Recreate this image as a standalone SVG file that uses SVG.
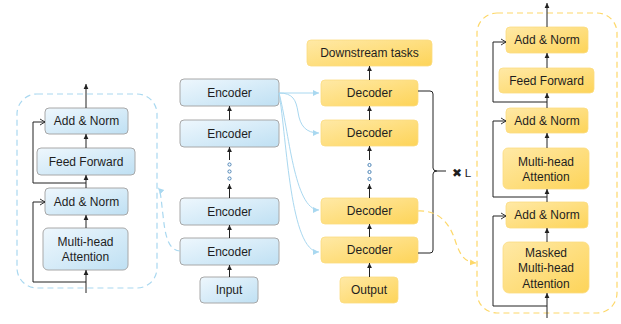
<svg xmlns="http://www.w3.org/2000/svg" width="621" height="324" viewBox="0 0 621 324">
<defs>
<linearGradient id="gb" x1="0" y1="0" x2="1" y2="1">
<stop offset="0" stop-color="#eef7fd"/>
<stop offset="1" stop-color="#bfe0f3"/>
</linearGradient>
<linearGradient id="gy" x1="0" y1="0" x2="1" y2="1">
<stop offset="0" stop-color="#ffe9a6"/>
<stop offset="1" stop-color="#fdd459"/>
</linearGradient>
<marker id="ah" markerWidth="6" markerHeight="6" refX="5" refY="3" orient="auto" markerUnits="userSpaceOnUse">
<path d="M0,0.6 L5,3 L0,5.4 Z" fill="#222"/>
</marker>
<marker id="oh" markerWidth="8" markerHeight="8" refX="6" refY="4" orient="auto" markerUnits="userSpaceOnUse">
<path d="M1,1 L6,4 L1,7" fill="none" stroke="#222" stroke-width="0.9"/>
</marker>
<marker id="bh" markerWidth="8" markerHeight="8" refX="6" refY="4" orient="auto" markerUnits="userSpaceOnUse">
<path d="M0,1 L6,4 L0,7 Z" fill="#a9d8f0"/>
</marker>
<marker id="yh" markerWidth="8" markerHeight="8" refX="6" refY="4" orient="auto" markerUnits="userSpaceOnUse">
<path d="M0,1 L6,4 L0,7 Z" fill="#fdd86a"/>
</marker>
</defs>
<style>
.b{fill:url(#gb);stroke:#a8a8a8;stroke-width:1}
.y{fill:url(#gy);stroke:#fbdc80;stroke-width:0.8}
text{font-family:"Liberation Sans",Arial,sans-serif;font-size:12px;fill:#1e1e1e;text-anchor:middle}
.ln{fill:none;stroke:#222;stroke-width:1}
.bl{fill:none;stroke:#a9d8f0;stroke-width:1}
.bd{fill:none;stroke:#a9d8f0;stroke-width:1.2;stroke-dasharray:6,4}
.yd{fill:none;stroke:#fdd86a;stroke-width:1.2;stroke-dasharray:6,4}
.dot{fill:#fff;stroke:#4f86b8;stroke-width:1}
</style>

<!-- containers -->
<rect x="17" y="94" width="140" height="194" rx="20" class="bd"/>
<rect x="477" y="13" width="140" height="300" rx="20" class="yd"/>

<!-- left encoder block -->
<g id="L_an1"><rect x="45" y="108" width="83" height="26" rx="4" class="b"/><text x="86.5" y="125.2">Add &amp; Norm</text></g>
<g id="L_ff"><rect x="37" y="148" width="98" height="27" rx="4" class="b"/><text x="86" y="165.7">Feed Forward</text></g>
<g id="L_an2"><rect x="45" y="188" width="83" height="27" rx="4" class="b"/><text x="86.5" y="205.7">Add &amp; Norm</text></g>
<g id="L_mha"><rect x="43" y="228" width="85" height="42" rx="5" class="b"/><text x="85.5" y="246.2">Multi-head</text><text x="85.5" y="261.2">Attention</text></g>

<!-- encoder column -->
<g id="E1"><rect x="180" y="79" width="99" height="27" rx="4" class="b"/><text x="229.5" y="96.7">Encoder</text></g>
<g id="E2"><rect x="180" y="120" width="99" height="27" rx="4" class="b"/><text x="229.5" y="137.7">Encoder</text></g>
<g id="E3"><rect x="180" y="198" width="99" height="27" rx="4" class="b"/><text x="229.5" y="215.7">Encoder</text></g>
<g id="E4"><rect x="180" y="238" width="99" height="27" rx="4" class="b"/><text x="229.5" y="255.7">Encoder</text></g>
<g id="Input"><rect x="200" y="277" width="58" height="26" rx="4" class="b"/><text x="229" y="294.2">Input</text></g>

<!-- decoder column -->
<g id="DS"><rect x="307" y="40" width="125" height="26" rx="4" class="y"/><text x="369.5" y="57.2">Downstream tasks</text></g>
<g id="D1"><rect x="321" y="80" width="97" height="26" rx="4" class="y"/><text x="369.5" y="97.2">Decoder</text></g>
<g id="D2"><rect x="321" y="120" width="97" height="26" rx="4" class="y"/><text x="369.5" y="137.2">Decoder</text></g>
<g id="D3"><rect x="321" y="198" width="97" height="26" rx="4" class="y"/><text x="369.5" y="215.2">Decoder</text></g>
<g id="D4"><rect x="321" y="237" width="97" height="26" rx="4" class="y"/><text x="369.5" y="254.2">Decoder</text></g>
<g id="Output"><rect x="340" y="277" width="58" height="26" rx="4" class="y"/><text x="369" y="294.2">Output</text></g>

<!-- right decoder block -->
<g id="R_an1"><rect x="506" y="27" width="82" height="26" rx="4" class="y"/><text x="547" y="44.2">Add &amp; Norm</text></g>
<g id="R_ff"><rect x="499" y="68" width="95" height="25" rx="4" class="y"/><text x="546.5" y="84.7">Feed Forward</text></g>
<g id="R_an2"><rect x="506" y="108" width="82" height="25" rx="4" class="y"/><text x="547" y="124.7">Add &amp; Norm</text></g>
<g id="R_mha"><rect x="503" y="148" width="86" height="41" rx="5" class="y"/><text x="546" y="165.7">Multi-head</text><text x="546" y="180.7">Attention</text></g>
<g id="R_an3"><rect x="506" y="202" width="82" height="26" rx="4" class="y"/><text x="547" y="219.2">Add &amp; Norm</text></g>
<g id="R_mmha"><rect x="503" y="242" width="86" height="51" rx="6" class="y"/><text x="546" y="257.2">Masked</text><text x="546" y="272.2">Multi-head</text><text x="546" y="287.7">Attention</text></g>

<!-- L label -->
<g id="Lbl"><text x="457" y="176.5" style="font-family:'DejaVu Sans',sans-serif;font-size:12px">✖</text><text x="468" y="176.5" style="font-size:11.5px">L</text></g>

<g id="connectors">
<!-- left block -->
<path class="ln" d="M86,293 V270" marker-end="url(#ah)"/>
<path class="ln" d="M86,228 V215" marker-end="url(#ah)"/>
<path class="ln" d="M86,188 V175" marker-end="url(#ah)"/>
<path class="ln" d="M86,148 V134" marker-end="url(#ah)"/>
<path class="ln" d="M86,108 V84" marker-end="url(#ah)"/>
<path class="ln" d="M86,282 H33 V202 H45" marker-end="url(#oh)"/>
<path class="ln" d="M86,183 H33 V122 H45" marker-end="url(#oh)"/>
<!-- encoder column -->
<path class="ln" d="M229.5,277 V265" marker-end="url(#ah)"/>
<path class="ln" d="M229.5,238 V225" marker-end="url(#ah)"/>
<path class="ln" d="M229.5,198 V184" marker-end="url(#ah)"/>
<path class="ln" d="M229.5,160 V147" marker-end="url(#ah)"/>
<path class="ln" d="M229.5,120 V106" marker-end="url(#ah)"/>
<circle class="dot" cx="229.5" cy="164.5" r="1.6"/>
<circle class="dot" cx="229.5" cy="171.5" r="1.6"/>
<circle class="dot" cx="229.5" cy="178.5" r="1.6"/>
<!-- decoder column -->
<path class="ln" d="M369.5,277 V263" marker-end="url(#ah)"/>
<path class="ln" d="M369.5,237 V224" marker-end="url(#ah)"/>
<path class="ln" d="M369.5,198 V184" marker-end="url(#ah)"/>
<path class="ln" d="M369.5,160 V146" marker-end="url(#ah)"/>
<path class="ln" d="M369.5,120 V106" marker-end="url(#ah)"/>
<path class="ln" d="M369.5,80 V66" marker-end="url(#ah)"/>
<circle class="dot" cx="369.5" cy="165" r="1.6"/>
<circle class="dot" cx="369.5" cy="172" r="1.6"/>
<circle class="dot" cx="369.5" cy="179" r="1.6"/>
<!-- right block -->
<path class="ln" d="M547,318 V293" marker-end="url(#ah)"/>
<path class="ln" d="M547,242 V228" marker-end="url(#ah)"/>
<path class="ln" d="M547,202 V189" marker-end="url(#ah)"/>
<path class="ln" d="M547,148 V133" marker-end="url(#ah)"/>
<path class="ln" d="M547,108 V93" marker-end="url(#ah)"/>
<path class="ln" d="M547,68 V53" marker-end="url(#ah)"/>
<path class="ln" d="M547,27 V3" marker-end="url(#ah)"/>
<path class="ln" d="M547,306 H493 V216 H506" marker-end="url(#oh)"/>
<path class="ln" d="M547,197 H493 V121 H506" marker-end="url(#oh)"/>
<path class="ln" d="M547,102 H493 V42 H506" marker-end="url(#oh)"/>
<!-- brace -->
<path class="ln" d="M418,91 H430 Q433,91 433,94 V168 Q433,171 437,171 H446 M437,171 Q433,171 433,174 V250 Q433,253 430,253 H418"/>
<!-- encoder to decoder -->
<path class="bl" d="M279,93 H319" marker-end="url(#bh)"/>
<path class="bl" d="M279,93 C293,93 296,100 298,112 C300,126 306,133 319,133" marker-end="url(#bh)"/>
<path class="bl" d="M279,93 C289,130 294,210 319,210" marker-end="url(#bh)"/>
<path class="bl" d="M279,93 C287,140 290,252 319,252" marker-end="url(#bh)"/>
<!-- dashed detail links -->
<path class="bd" d="M180,251 C168,250 165,235 163,215 C161,200 161,191 158,188" marker-end="url(#bh)"/>
<path class="yd" d="M418,211 C440,210 450,225 455,240 C460,256 465,262 476,263" marker-end="url(#yh)"/>
</g>
</svg>
